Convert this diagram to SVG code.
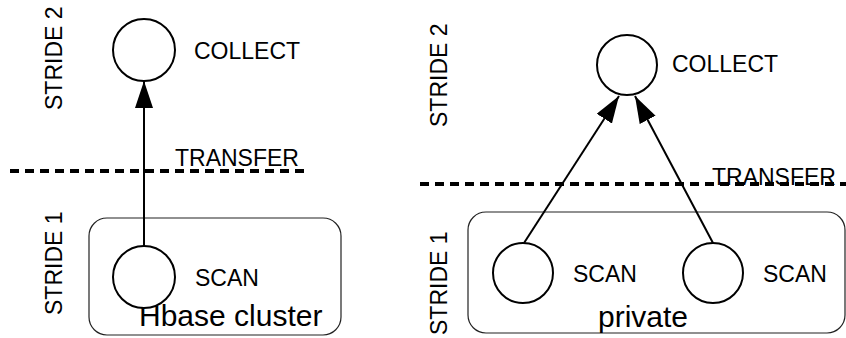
<svg xmlns="http://www.w3.org/2000/svg" width="846" height="338" viewBox="0 0 846 338">
  <style>
    text { font-family: "Liberation Sans", Arial, sans-serif; fill: #000; }
    .lbl { font-size: 23px; }
    .big { font-size: 30px; }
    .node { fill: #fff; stroke: #000; stroke-width: 2; }
    .box { fill: none; stroke: #222; stroke-width: 1.2; }
    .cut { stroke: #000; stroke-width: 4; stroke-dasharray: 9 6; fill: none; }
    .edge { stroke: #000; stroke-width: 2; fill: none; marker-end: url(#head); }
  </style>
  <defs>
    <marker id="head" markerUnits="userSpaceOnUse" markerWidth="28" markerHeight="18" refX="27" refY="9" orient="auto">
      <path d="M0,0 L27,9 L0,18 Z" fill="#000"/>
    </marker>
  </defs>

  <!-- left panel: HBase cluster -->
  <g id="left-frame">
    <rect class="box" x="89" y="218" width="252" height="117" rx="18" ry="18"/>
    <text class="big" x="139" y="326">Hbase cluster</text>
    <text class="lbl" transform="translate(62,110) rotate(-90)">STRIDE 2</text>
    <text class="lbl" transform="translate(62,315) rotate(-90)">STRIDE 1</text>
    <line class="cut" x1="10" y1="171" x2="310" y2="171"/>
    <text class="lbl" x="175" y="166">TRANSFER</text>
  </g>

  <!-- right panel: private -->
  <g id="right-frame">
    <rect class="box" x="468" y="212" width="377" height="121" rx="18" ry="18"/>
    <text class="big" x="598" y="327">private</text>
    <text class="lbl" transform="translate(447,127) rotate(-90)">STRIDE 2</text>
    <text class="lbl" transform="translate(447,335) rotate(-90)">STRIDE 1</text>
    <line class="cut" x1="420" y1="184" x2="846" y2="184"/>
    <text class="lbl" x="712" y="185">TRANSFER</text>
  </g>

  <!-- connectors -->
  <g id="connectors">
    <line class="edge" x1="144" y1="246" x2="144" y2="81"/>
    <line class="edge" x1="524" y1="243" x2="619" y2="96"/>
    <line class="edge" x1="713" y1="243" x2="635" y2="96"/>
  </g>

  <g id="collect-left">
    <circle class="node" cx="144" cy="50" r="31"/>
    <text class="lbl" x="194" y="59">COLLECT</text>
  </g>
  <g id="scan-left">
    <circle class="node" cx="144" cy="277" r="31"/>
    <text class="lbl" x="195" y="286">SCAN</text>
  </g>

  <g id="collect-right">
    <circle class="node" cx="627" cy="65" r="30"/>
    <text class="lbl" x="672" y="72">COLLECT</text>
  </g>
  <g id="scan-right-1">
    <circle class="node" cx="523" cy="273" r="30"/>
    <text class="lbl" x="573" y="282">SCAN</text>
  </g>
  <g id="scan-right-2">
    <circle class="node" cx="713" cy="273" r="30"/>
    <text class="lbl" x="763" y="282">SCAN</text>
  </g>
</svg>
